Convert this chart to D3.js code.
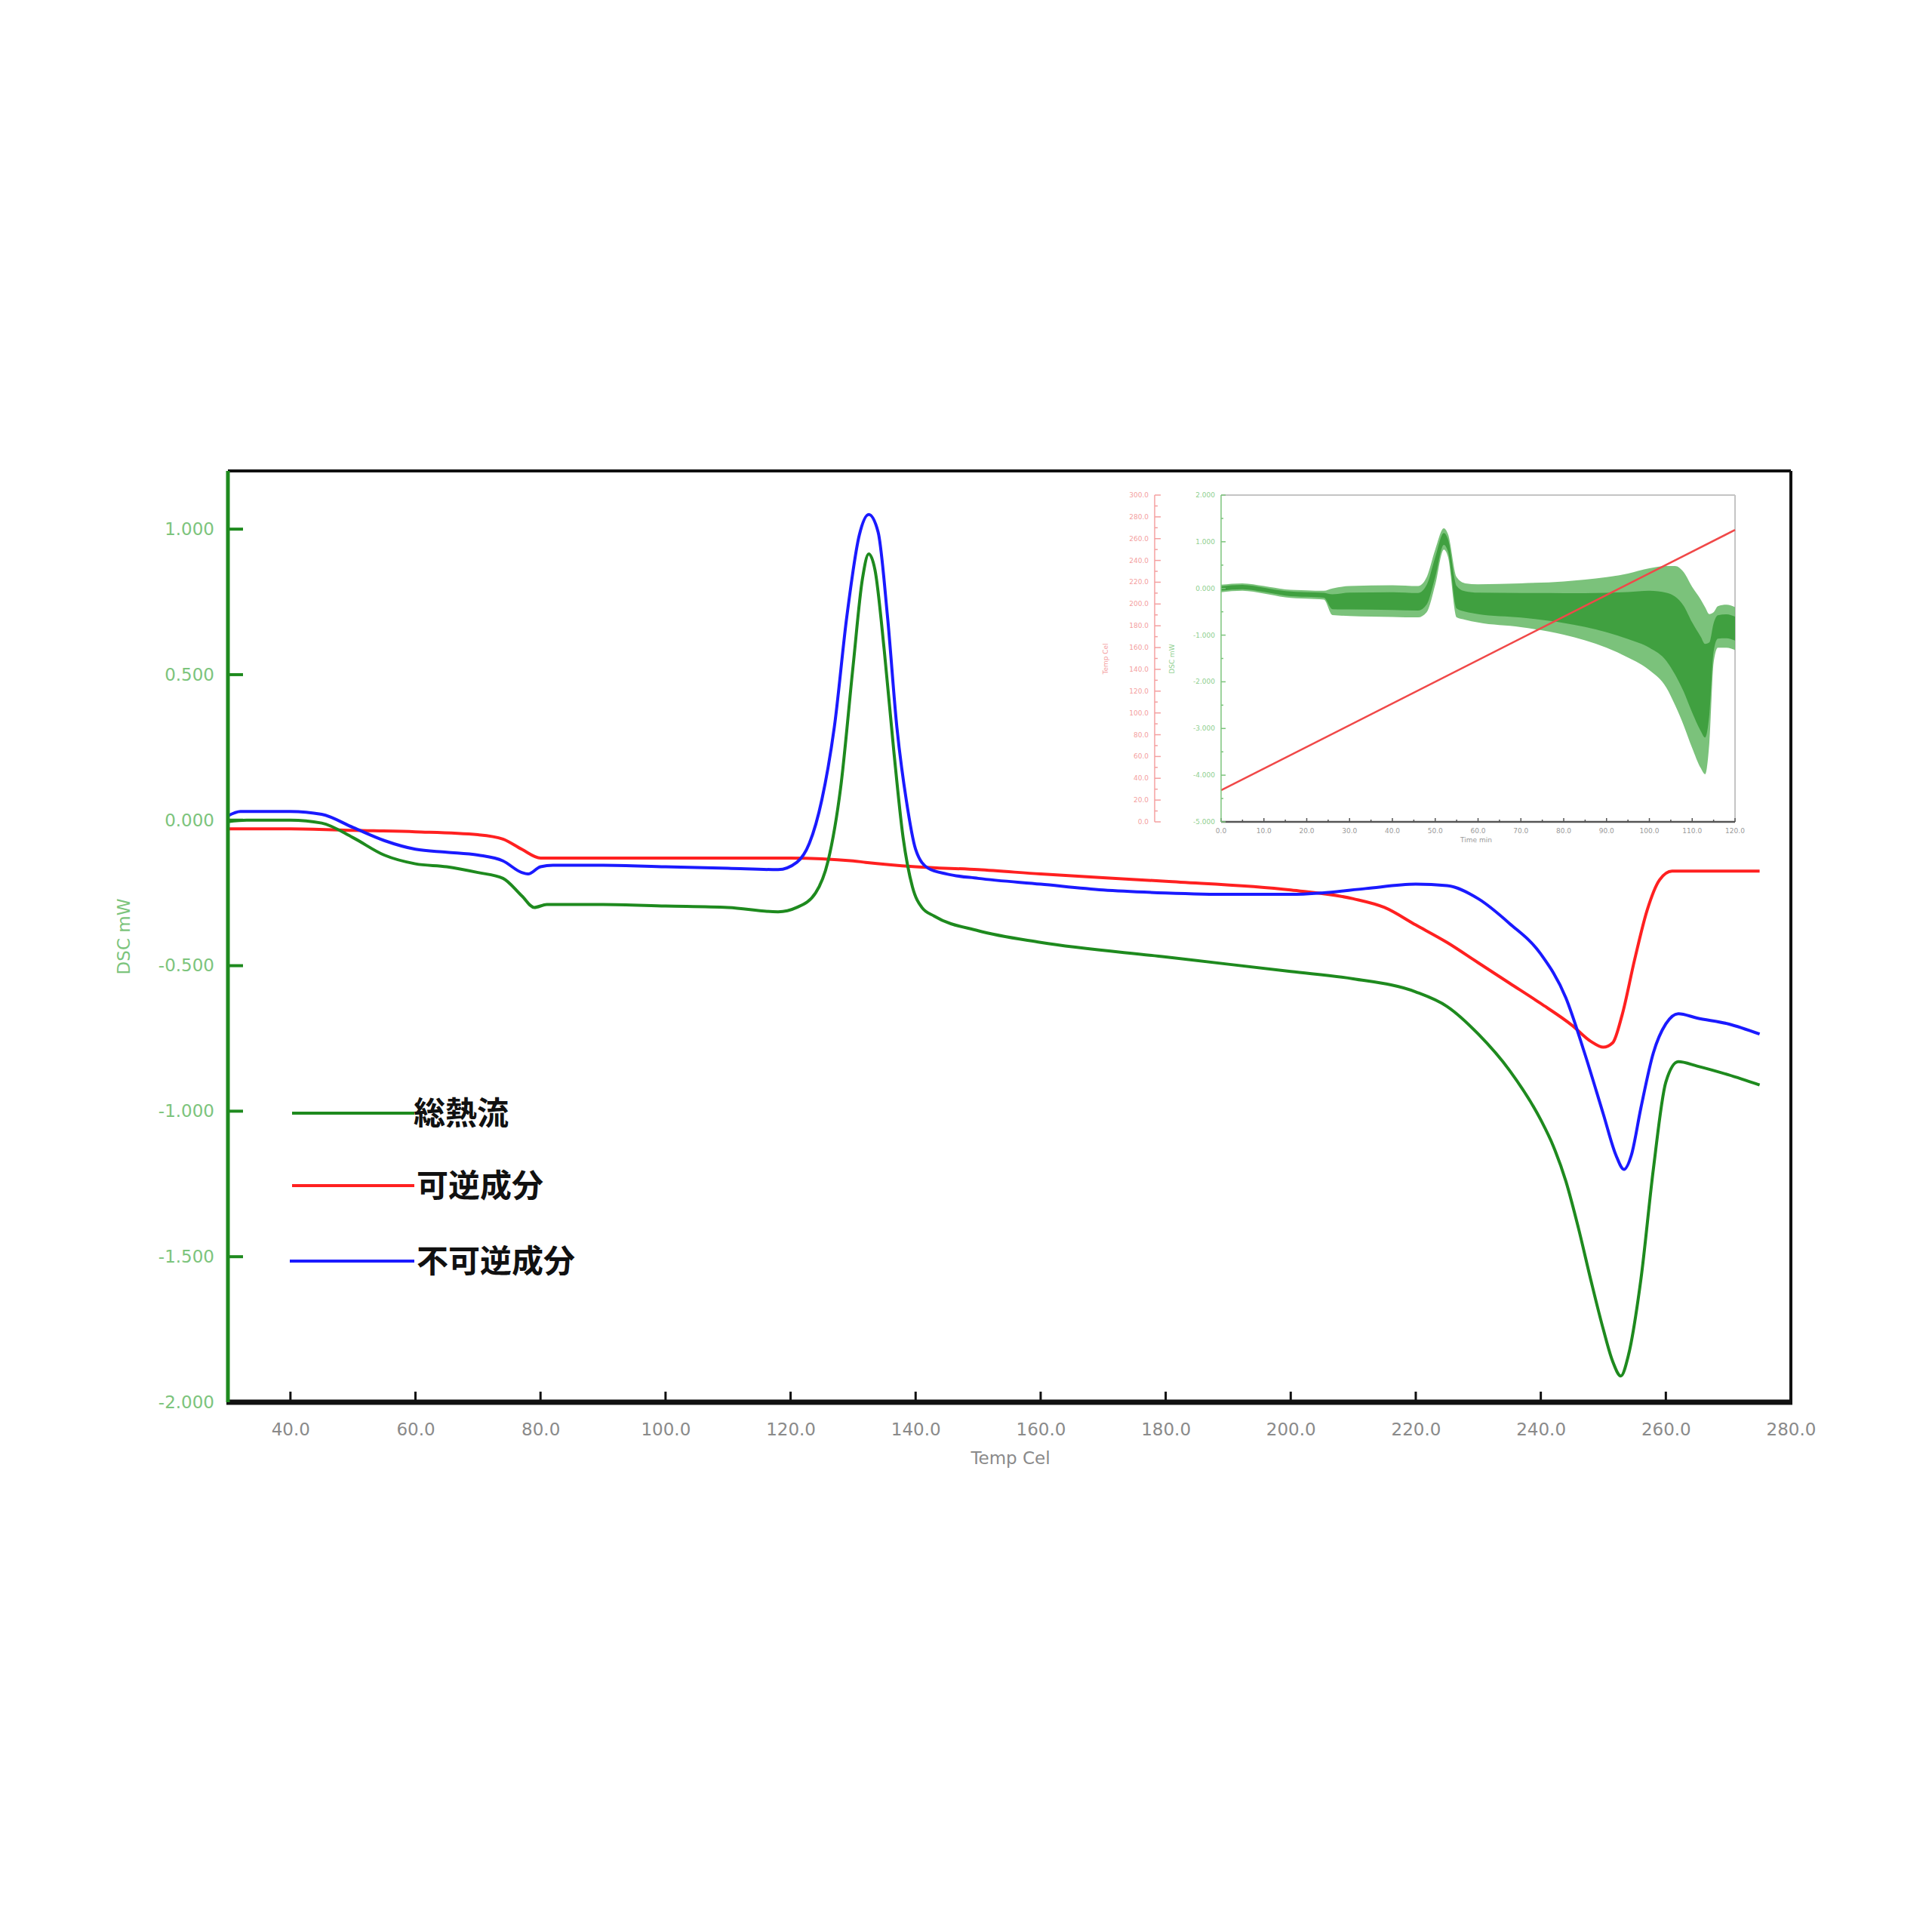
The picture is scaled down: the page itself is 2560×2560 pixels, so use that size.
<!DOCTYPE html>
<meta charset="utf-8">
<script src="https://d3js.org/d3.v7.min.js"></script>
<style>
  body { margin: 0; background: #fff; }
  svg { display: block; }
</style>
<body>
<div id="chart"></div>
<script>
// ---- main chart data (Temp Cel, DSC mW) ----
var totalT = [30, 33, 40, 45, 50, 55, 60, 65, 70, 74, 77, 79, 81, 90, 100, 110, 118, 121, 124, 126, 128, 130, 131.5, 132.5, 133.5, 135, 136.5, 138, 139.5, 141, 143, 150, 160, 180, 200, 210, 220, 225, 230, 235, 240, 242, 244, 246, 248, 250, 251.5, 252.8, 254, 256, 258, 260, 262, 265, 270, 275];
var totalV = [-0.005, 0.0, 0.0, -0.01, -0.06, -0.12, -0.15, -0.16, -0.18, -0.20, -0.26, -0.30, -0.29, -0.29, -0.295, -0.30, -0.315, -0.30, -0.25, -0.14, 0.11, 0.53, 0.83, 0.915, 0.86, 0.58, 0.24, -0.06, -0.23, -0.30, -0.33, -0.38, -0.42, -0.47, -0.52, -0.545, -0.59, -0.64, -0.735, -0.86, -1.03, -1.12, -1.24, -1.40, -1.58, -1.75, -1.86, -1.91, -1.84, -1.58, -1.20, -0.90, -0.83, -0.845, -0.875, -0.91];

var revT = [30, 40, 50, 60, 70, 74, 77, 80, 82, 100, 120, 130, 132, 140, 150, 160, 180, 200, 210, 215, 220, 225, 230, 235, 240, 245, 248, 250, 251.5, 253, 255, 257, 259, 261, 265, 275];
var revV = [-0.03, -0.03, -0.035, -0.04, -0.05, -0.065, -0.10, -0.13, -0.13, -0.13, -0.13, -0.14, -0.145, -0.16, -0.17, -0.185, -0.21, -0.24, -0.27, -0.30, -0.36, -0.42, -0.49, -0.56, -0.63, -0.705, -0.76, -0.78, -0.765, -0.67, -0.48, -0.31, -0.205, -0.175, -0.175, -0.175];

var nonrevT = [30, 32, 40, 45, 50, 55, 60, 65, 70, 74, 77, 78, 80, 82, 90, 100, 110, 118, 121, 123, 125, 127, 129, 131, 132.5, 134, 135.5, 137, 138.5, 140, 142, 145, 150, 160, 170, 180, 190, 200, 205, 212, 220, 225, 230, 235, 240, 244, 247, 250, 252, 253.3, 254.5, 256, 258, 260, 262, 265, 270, 275];
var nonrevV = [0.015, 0.03, 0.03, 0.02, -0.025, -0.07, -0.10, -0.11, -0.12, -0.14, -0.18, -0.185, -0.16, -0.155, -0.155, -0.16, -0.165, -0.17, -0.145, -0.08, 0.07, 0.32, 0.70, 0.98, 1.05, 0.99, 0.70, 0.32, 0.07, -0.10, -0.165, -0.185, -0.20, -0.22, -0.24, -0.25, -0.255, -0.255, -0.25, -0.235, -0.22, -0.225, -0.27, -0.355, -0.46, -0.61, -0.80, -1.01, -1.15, -1.20, -1.15, -0.99, -0.80, -0.70, -0.665, -0.68, -0.70, -0.735];

var xTicks = [40, 60, 80, 100, 120, 140, 160, 180, 200, 220, 240, 260, 280];
var yTicks = [1.0, 0.5, 0.0, -0.5, -1.0, -1.5, -2.0];

var legendNames = ["総熱流", "可逆成分", "不可逆成分"];
var seriesColors = ["#1e8a1e", "#ff2020", "#1a1aff"];

// ---- inset data (Time min) ----
var modT     = [0, 5, 10, 15, 20, 24, 26, 30, 40, 46, 48, 50, 52, 53, 55, 57, 60, 70, 80, 90, 95, 100, 104, 106, 108, 110, 112, 113, 114, 115, 116, 118, 120];
var modUpper = [0.08, 0.11, 0.05, -0.02, -0.04, -0.05, 0.0, 0.05, 0.07, 0.05, 0.24, 0.83, 1.29, 1.16, 0.24, 0.11, 0.09, 0.11, 0.15, 0.24, 0.32, 0.43, 0.48, 0.48, 0.35, 0.03, -0.24, -0.40, -0.55, -0.51, -0.38, -0.35, -0.40];
var modLower = [-0.08, -0.05, -0.11, -0.19, -0.22, -0.24, -0.57, -0.59, -0.61, -0.62, -0.51, 0.08, 0.83, 0.67, -0.62, -0.67, -0.73, -0.83, -0.99, -1.27, -1.48, -1.75, -2.13, -2.50, -2.93, -3.42, -3.85, -3.98, -3.31, -1.59, -1.27, -1.27, -1.32];
var rampTime = [0, 120];
var rampTemp = [29, 268];

var insetTimeTicks = [0, 10, 20, 30, 40, 50, 60, 70, 80, 90, 100, 110, 120];
var insetDscTicks = [2, 1, 0, -1, -2, -3, -4, -5];
var insetTempTicks = [0, 20, 40, 60, 80, 100, 120, 140, 160, 180, 200, 220, 240, 260, 280, 300];

// ---- layout ----
var W = 2560, H = 2560;
var L = 302, R = 2373, T = 624, B = 1858;
var font = "'DejaVu Sans', Verdana, sans-serif";
var fmt1 = d3.format(".1f");
var fmt3 = function (d) { return d3.format(".3f")(d).replace("\u2212", "-"); };

var svg = d3.select("#chart").append("svg")
  .attr("width", W).attr("height", H);

var x = d3.scaleLinear().domain([30, 280]).range([L, R]);
var y = d3.scaleLinear().domain([-2.0, 1.2]).range([B, T]);

// frame: top and right black, bottom thick black, left green
svg.append("line").attr("x1", L).attr("x2", R).attr("y1", T).attr("y2", T)
  .attr("stroke", "#111").attr("stroke-width", 4);
svg.append("line").attr("x1", R).attr("x2", R).attr("y1", T).attr("y2", B)
  .attr("stroke", "#111").attr("stroke-width", 4);

// curves
var line = d3.line()
  .x(function (d) { return x(d[0]); })
  .y(function (d) { return y(d[1]); })
  .curve(d3.curveMonotoneX);

var series = [
  d3.zip(totalT, totalV),
  d3.zip(revT, revV),
  d3.zip(nonrevT, nonrevV)
];
// red first, then blue, green on top
[1, 2, 0].forEach(function (i) {
  svg.append("path")
    .datum(series[i])
    .attr("fill", "none")
    .attr("stroke", seriesColors[i])
    .attr("stroke-width", 4)
    .attr("stroke-linejoin", "round")
    .attr("d", line);
});

// x axis
var xAxis = svg.append("g").attr("transform", "translate(0," + B + ")")
  .call(d3.axisBottom(x).tickValues(xTicks).tickSize(0).tickPadding(28).tickFormat(fmt1));
xAxis.select(".domain").remove();
xAxis.selectAll("text").attr("font-family", font).attr("font-size", 23).attr("fill", "#8a8a8a");
svg.selectAll(".xtick").data(xTicks.filter(function (d) { return d < 280; })).enter()
  .append("line")
  .attr("x1", function (d) { return x(d); }).attr("x2", function (d) { return x(d); })
  .attr("y1", B).attr("y2", B - 14)
  .attr("stroke", "#111").attr("stroke-width", 3);
svg.append("line").attr("x1", L - 2).attr("x2", R + 2).attr("y1", B).attr("y2", B)
  .attr("stroke", "#111").attr("stroke-width", 7);

// y axis
var yAxis = svg.append("g").attr("transform", "translate(" + L + ",0)")
  .call(d3.axisLeft(y).tickValues(yTicks).tickSize(0).tickPadding(18).tickFormat(fmt3));
yAxis.select(".domain").remove();
yAxis.selectAll("text").attr("font-family", font).attr("font-size", 23).attr("fill", "#7cc47c");
svg.selectAll(".ytick").data(yTicks.filter(function (d) { return d > -2; })).enter()
  .append("line")
  .attr("x1", L).attr("x2", L + 20)
  .attr("y1", function (d) { return y(d); }).attr("y2", function (d) { return y(d); })
  .attr("stroke", "#1e8a1e").attr("stroke-width", 4);
svg.append("line").attr("x1", L).attr("x2", L).attr("y1", T).attr("y2", B)
  .attr("stroke", "#1e8a1e").attr("stroke-width", 5);

// axis titles
svg.append("text")
  .attr("x", 1339).attr("y", 1940)
  .attr("text-anchor", "middle")
  .attr("font-family", font).attr("font-size", 23).attr("fill", "#8a8a8a")
  .text("Temp Cel");
svg.append("text")
  .attr("transform", "translate(172,1241) rotate(-90)")
  .attr("text-anchor", "middle")
  .attr("font-family", font).attr("font-size", 23).attr("fill", "#7cc47c")
  .text("DSC mW");

// legend
var legendY = [1475, 1571, 1671];
var legendX1 = [387, 387, 384];
legendNames.forEach(function (name, i) {
  svg.append("line")
    .attr("x1", legendX1[i]).attr("x2", 549)
    .attr("y1", legendY[i]).attr("y2", legendY[i])
    .attr("stroke", seriesColors[i]).attr("stroke-width", 4);
  svg.append("text")
    .attr("x", i === 0 ? 548 : 552).attr("y", legendY[i] + 15)
    .attr("font-family", "'Noto Sans CJK JP', sans-serif")
    .attr("font-weight", "bold").attr("font-size", 42).attr("fill", "#111")
    .text(name);
});

// ---- inset: modulated DSC signal vs time ----
var iL = 1618, iR = 2299, iT = 656, iB = 1089;
var ix = d3.scaleLinear().domain([0, 120]).range([iL, iR]);
var iy = d3.scaleLinear().domain([-5, 2]).range([iB, iT]);
var it = d3.scaleLinear().domain([0, 300]).range([iB, iT]);
var inset = svg.append("g");

inset.append("line").attr("x1", iL).attr("x2", iR).attr("y1", iT).attr("y2", iT)
  .attr("stroke", "#c4c4c4").attr("stroke-width", 2);
inset.append("line").attr("x1", iR).attr("x2", iR).attr("y1", iT).attr("y2", iB)
  .attr("stroke", "#c4c4c4").attr("stroke-width", 2);

var env = modT.map(function (t, i) { return [t, modUpper[i], modLower[i]]; });
var outerArea = d3.area()
  .x(function (d) { return ix(d[0]); })
  .y0(function (d) { return iy(d[2]); })
  .y1(function (d) { return iy(d[1]); })
  .curve(d3.curveMonotoneX);
var innerArea = d3.area()
  .x(function (d) { return ix(d[0]); })
  .y0(function (d) { return iy(d[2] + (d[1] - d[2]) * 0.22); })
  .y1(function (d) { return iy(d[1] - (d[1] - d[2]) * 0.22); })
  .curve(d3.curveMonotoneX);
inset.append("path").datum(env).attr("d", outerArea)
  .attr("fill", "#6dbb6d").attr("opacity", 0.9);
inset.append("path").datum(env).attr("d", innerArea)
  .attr("fill", "#3a9c3a").attr("opacity", 0.9);

inset.append("path")
  .datum(d3.zip(rampTime, rampTemp))
  .attr("fill", "none").attr("stroke", "#f04848").attr("stroke-width", 2.5)
  .attr("d", d3.line().x(function (d) { return ix(d[0]); }).y(function (d) { return it(d[1]); }));

// inset bottom axis
inset.append("line").attr("x1", iL).attr("x2", iR).attr("y1", iB).attr("y2", iB)
  .attr("stroke", "#555").attr("stroke-width", 2.5);
var tMinor = d3.range(0, 121, 5);
inset.selectAll(".itx").data(tMinor).enter().append("line")
  .attr("x1", function (d) { return ix(d); }).attr("x2", function (d) { return ix(d); })
  .attr("y1", iB).attr("y2", function (d) { return iB - (d % 10 === 0 ? 5 : 3); })
  .attr("stroke", "#555").attr("stroke-width", 1.5);
inset.selectAll(".itxl").data(insetTimeTicks).enter().append("text")
  .attr("x", function (d) { return ix(d); }).attr("y", iB + 15)
  .attr("text-anchor", "middle")
  .attr("font-family", font).attr("font-size", 9).attr("fill", "#999")
  .text(fmt1);
inset.append("text").attr("x", 1956).attr("y", iB + 27)
  .attr("text-anchor", "middle")
  .attr("font-family", font).attr("font-size", 9).attr("fill", "#999")
  .text("Time min");

// inset DSC axis (green)
inset.append("line").attr("x1", iL).attr("x2", iL).attr("y1", iT).attr("y2", iB)
  .attr("stroke", "#7cc47c").attr("stroke-width", 1.5);
inset.selectAll(".idy").data(d3.range(-5, 2.01, 0.5)).enter().append("line")
  .attr("x1", iL).attr("x2", function (d) { return iL + (d % 1 === 0 ? 6 : 3); })
  .attr("y1", function (d) { return iy(d); }).attr("y2", function (d) { return iy(d); })
  .attr("stroke", "#7cc47c").attr("stroke-width", 1.5);
inset.selectAll(".idyl").data(insetDscTicks).enter().append("text")
  .attr("x", iL - 8).attr("y", function (d) { return iy(d) + 3; })
  .attr("text-anchor", "end")
  .attr("font-family", font).attr("font-size", 9).attr("fill", "#8fcf8f")
  .text(fmt3);
inset.append("text")
  .attr("transform", "translate(1556,873) rotate(-90)")
  .attr("text-anchor", "middle")
  .attr("font-family", font).attr("font-size", 9).attr("fill", "#8fcf8f")
  .text("DSC mW");

// inset temperature axis (red)
var tempAxisX = 1530;
inset.append("line").attr("x1", tempAxisX).attr("x2", tempAxisX).attr("y1", iT).attr("y2", iB)
  .attr("stroke", "#f4a0a0").attr("stroke-width", 1.5);
inset.selectAll(".ity").data(d3.range(0, 301, 10)).enter().append("line")
  .attr("x1", tempAxisX).attr("x2", function (d) { return tempAxisX + (d % 20 === 0 ? 8 : 4); })
  .attr("y1", function (d) { return it(d); }).attr("y2", function (d) { return it(d); })
  .attr("stroke", "#f4a0a0").attr("stroke-width", 1.5);
inset.selectAll(".ityl").data(insetTempTicks).enter().append("text")
  .attr("x", tempAxisX - 8).attr("y", function (d) { return it(d) + 3; })
  .attr("text-anchor", "end")
  .attr("font-family", font).attr("font-size", 9).attr("fill", "#f4a0a0")
  .text(fmt1);
inset.append("text")
  .attr("transform", "translate(1468,873) rotate(-90)")
  .attr("text-anchor", "middle")
  .attr("font-family", font).attr("font-size", 9).attr("fill", "#f4a0a0")
  .text("Temp Cel");
</script>
</body>
